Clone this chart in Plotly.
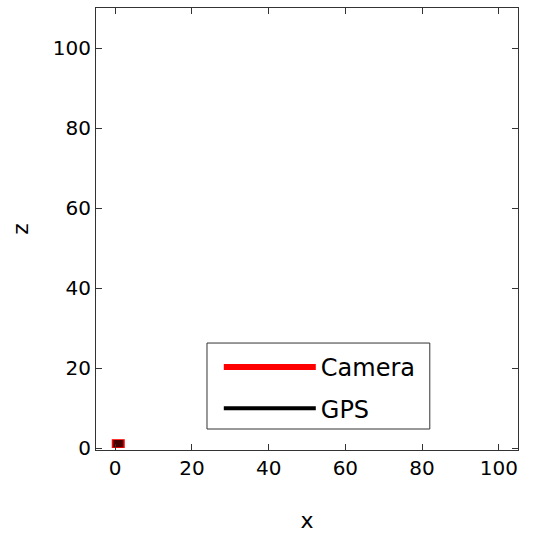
import plotly.graph_objects as go

# Trajectory data (x, z) - tiny paths near the origin
camera_x = [0.8, 0.8, 0.8]
camera_z = [0.0, 1.1, 2.2]
gps_x = [0.8, 0.8, 0.8]
gps_z = [0.2, 1.1, 2.0]

series_names = ["Camera", "GPS"]
x_ticks = [0, 20, 40, 60, 80, 100]
y_ticks = [0, 20, 40, 60, 80, 100]

fig = go.Figure()
# Data traces (thick, overlapping near origin)
fig.add_trace(go.Scatter(x=camera_x, y=camera_z, mode="lines", name=series_names[0],
                         showlegend=False,
                         line=dict(color="#ff0000", width=13)))
fig.add_trace(go.Scatter(x=gps_x, y=gps_z, mode="lines", name=series_names[1],
                         showlegend=False,
                         line=dict(color="rgba(0,0,0,0.72)", width=10)))
# Legend entries
fig.add_trace(go.Scatter(x=[None], y=[None], mode="lines", name=series_names[0],
                         legendgroup="cam", line=dict(color="#ff0000", width=6)))
fig.add_trace(go.Scatter(x=[None], y=[None], mode="lines", name=series_names[1],
                         legendgroup="gps", line=dict(color="#000000", width=4)))

FAM = "DejaVu Sans, Verdana, sans-serif"
tick_font = dict(family=FAM, size=20, color="black")
title_font = dict(family=FAM, size=22, color="black")
legend_font = dict(family=FAM, size=24, color="black")

axis_common = dict(showgrid=False, zeroline=False, showline=True, linecolor="#333333",
                   linewidth=1, mirror="ticks", ticks="inside", ticklen=6,
                   tickcolor="#333333", tickfont=tick_font, automargin=False)

fig.update_layout(
    width=546, height=533,
    margin=dict(l=96, r=28, t=8, b=83),
    paper_bgcolor="white", plot_bgcolor="white",
    font=tick_font,
    xaxis=dict(range=[-5, 105], tickvals=x_ticks,
               title=dict(text="x", font=title_font, standoff=34), **axis_common),
    yaxis=dict(range=[-0.5, 110], tickvals=y_ticks,
               title=dict(text="z", font=title_font, standoff=18), **axis_common),
    legend=dict(x=0.291, y=0.2375, xanchor="left", yanchor="top",
                bgcolor="rgba(0,0,0,0)", borderwidth=0,
                font=legend_font, itemwidth=92, tracegroupgap=7,
                traceorder="grouped"),
    showlegend=True,
    shapes=[dict(type="rect", xref="paper", yref="paper",
                 x0=0.263, x1=0.791, y0=0.0475, y1=0.242,
                 line=dict(color="#333333", width=1), fillcolor="white",
                 layer="above")],
)

fig.write_html("out.html")
